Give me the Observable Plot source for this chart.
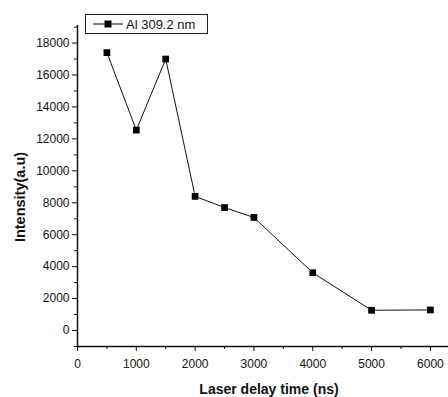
<!DOCTYPE html>
<html>
<head>
<meta charset="utf-8">
<script src="https://cdn.jsdelivr.net/npm/d3@7"></script>
<script src="https://cdn.jsdelivr.net/npm/@observablehq/plot@0.6"></script>
<style>
  html, body { margin: 0; padding: 0; background: #fff; }
  #wrap { position: relative; width: 448px; height: 397px; font-family: "Liberation Sans", Arial, sans-serif; }
  #legend { position: absolute; left: 85px; top: 14px; width: 123px; height: 20px; border: 1px solid #222; background: #fff; box-sizing: border-box; display: flex; align-items: center; font-size: 13px; color: #111; }
  #legend svg { margin-left: 7px; margin-right: 3px; }
</style>
</head>
<body>
<div id="wrap">
  <div id="chart"></div>
  <div id="legend"><svg width="30" height="10"><line x1="0" y1="5" x2="30" y2="5" stroke="#000" stroke-width="1"/><rect x="11.5" y="1.5" width="7" height="7" fill="#000"/></svg><span>Al 309.2 nm</span></div>
</div>
<script>
const delays = [500, 1000, 1500, 2000, 2500, 3000, 4000, 5000, 6000];
const intensity = [17400, 12550, 17000, 8400, 7700, 7080, 3620, 1270, 1290];
const xMajor = [0, 1000, 2000, 3000, 4000, 5000, 6000];
const xMinor = [500, 1500, 2500, 3500, 4500, 5500];
const yMajor = [0, 2000, 4000, 6000, 8000, 10000, 12000, 14000, 16000, 18000];
const yMinor = [-1000, 1000, 3000, 5000, 7000, 9000, 11000, 13000, 15000, 17000, 19000];
const seriesName = "Al 309.2 nm";

const data = delays.map((d, i) => ({delay: d, value: intensity[i]}));

const chart = Plot.plot({
  width: 448,
  height: 397,
  marginLeft: 77,
  marginRight: 0,
  marginTop: 25,
  marginBottom: 51,
  style: {fontFamily: "Liberation Sans, Arial, sans-serif", fontSize: "12px", color: "#111", background: "#fff"},
  x: {domain: [0, 6308]},
  y: {domain: [-1000, 19100]},
  marks: [
    Plot.axisX({ticks: xMajor, tickSize: 5, tickPadding: 8, tickFormat: d => String(d), label: null, fontSize: 12}),
    Plot.axisX({ticks: xMinor, tickSize: 3, tickFormat: () => "", label: null}),
    Plot.axisY({ticks: yMajor, tickSize: 5, tickPadding: 3, tickFormat: d => String(d), label: null, fontSize: 12}),
    Plot.axisY({ticks: yMinor, tickSize: 3, tickFormat: () => "", label: null}),
    Plot.ruleX([0], {y1: -1000, y2: 19100, stroke: "#111", strokeWidth: 1.5}),
    Plot.ruleY([-1000], {stroke: "#111", strokeWidth: 1.5}),
    Plot.line(data, {x: "delay", y: "value", stroke: "#111", strokeWidth: 1}),
    Plot.dot(data, {x: "delay", y: "value", symbol: "square", r: 3.8, fill: "#000", stroke: "none"})
  ]
});
document.getElementById("chart").appendChild(chart);

const svg = d3.select(chart);
svg.append("text")
  .attr("x", 269).attr("y", 394)
  .attr("text-anchor", "middle")
  .attr("font-weight", "bold").attr("font-size", 14).attr("fill", "#111")
  .text("Laser delay time (ns)");
svg.append("text")
  .attr("transform", "translate(25,197) rotate(-90)")
  .attr("text-anchor", "middle")
  .attr("font-weight", "bold").attr("font-size", 14.5).attr("fill", "#111")
  .text("Intensity(a.u)");
document.querySelector("#legend span").textContent = seriesName;
</script>
</body>
</html>
